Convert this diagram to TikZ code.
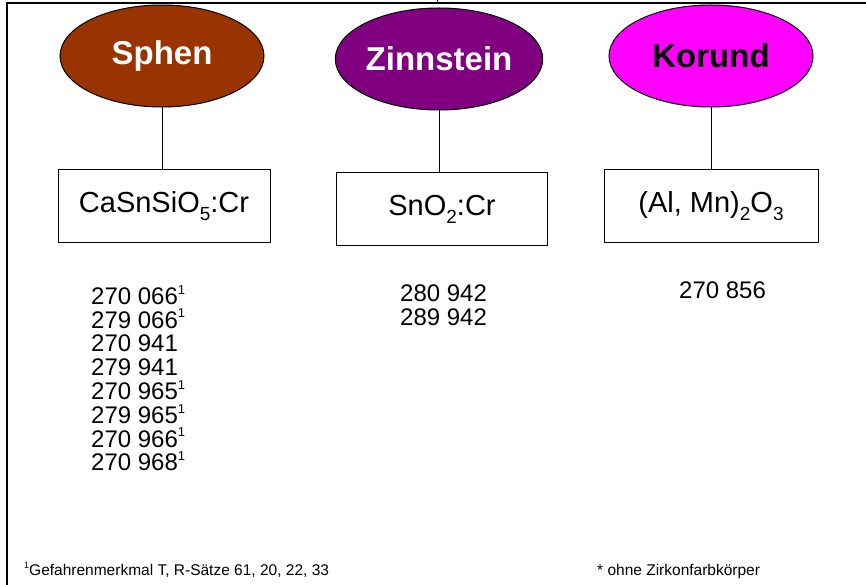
\documentclass[tikz,border=0pt]{standalone}
\usepackage{fontspec}
\setmainfont{Liberation Sans}
\usetikzlibrary{shapes.geometric}

\definecolor{sphenbrown}{HTML}{993300}
\definecolor{zinnpurple}{HTML}{800080}
\definecolor{korundpink}{HTML}{FF00FF}

\newcommand{\chemsub}[1]{\raisebox{-0.28em}{\fontsize{19}{19}\selectfont #1}}
\newcommand{\notemark}[1]{\raisebox{0.42em}{\fontsize{13}{13}\selectfont #1}}

\tikzset{
  mineral/.style={ellipse,draw,line width=1pt,minimum width=204pt,minimum height=102pt,
    inner sep=0pt,font=\fontsize{33}{33}\selectfont\bfseries},
  formula/.style={draw,line width=1pt,inner sep=0pt,font=\fontsize{29}{29}\selectfont},
  numlist/.style={anchor=north west,align=left,inner sep=0pt,font=\fontsize{24}{23.8}\selectfont},
  footnote/.style={anchor=base west,inner sep=0pt,font=\fontsize{15.5}{15.5}\selectfont}
}

\begin{document}
\begin{tikzpicture}[x=1pt,y=-1pt]
\useasboundingbox (0,0) rectangle (866,585);
% frame
\draw[line width=2pt] (7,585) -- (7,3) -- (866,3);
\draw[line width=1pt] (437,0) -- (437,3);
% mineral ellipses
\node[mineral,fill=sphenbrown,text=white] (sphen) at (162,56) {Sphen};
\node[mineral,fill=zinnpurple,text=white] (zinn) at (439,59) {Zinnstein};
\node[mineral,fill=korundpink,text=black] (korund) at (711,56) {Korund};
% formula boxes
\node[formula,minimum width=212pt,minimum height=72pt] (sphenbox) at (164,206) {CaSnSiO\chemsub{5}:Cr};
\node[formula,minimum width=211pt,minimum height=73pt] (zinnbox) at (442,209) {SnO\chemsub{2}:Cr};
\node[formula,minimum width=214pt,minimum height=72pt] (korundbox) at (711,206) {(Al, Mn)\chemsub{2}O\chemsub{3}};
\draw[line width=1pt] (sphen.south) -- (sphen.south |- sphenbox.north);
\draw[line width=1pt] (zinn.south) -- (zinn.south |- zinnbox.north);
\draw[line width=1pt] (korund.south) -- (korund.south |- korundbox.north);
% numbers
\node[numlist] (sphenlist) at (91,285) {270 066\notemark{1}\\279 066\notemark{1}\\270 941\\279 941\\270 965\notemark{1}\\279 965\notemark{1}\\270 966\notemark{1}\\270 968\notemark{1}};
\node[numlist] (zinnlist) at (400,285) {280 942\\289 942};
\node[numlist] (korundlist) at (679,282) {270 856};
% footnotes
\node[footnote] (note1) at (24,575) {\raisebox{0.4em}{\fontsize{9}{9}\selectfont 1}Gefahrenmerkmal T, R-Sätze 61, 20, 22, 33};
\node[footnote] (note2) at (597,575) {* ohne Zirkonfarbkörper};
\end{tikzpicture}
\end{document}
